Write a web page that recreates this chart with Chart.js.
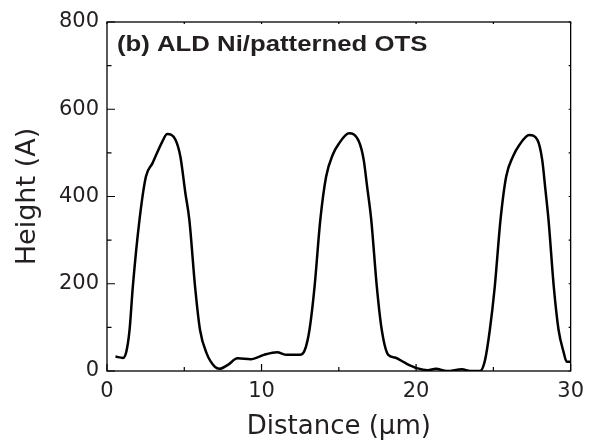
<!DOCTYPE html>
<html>
<head>
<meta charset="utf-8">
<script src="https://cdn.jsdelivr.net/npm/chart.js@4/dist/chart.umd.min.js"></script>
<style>
  html, body { margin: 0; padding: 0; background: #fff; }
  #wrap { width: 592px; height: 441px; position: relative; }
</style>
</head>
<body>
<div id="wrap"><canvas id="chart" width="592" height="441"></canvas></div>
<script>
const panelLabel = "(b) ALD Ni/patterned OTS";
const xTitle = "Distance (\u03bcm)";
const yTitle = "Height (A)";

// profile (um, angstrom)
const distance = [
  0.55, 1.04, 1.25, 1.46, 1.67, 2.1, 2.52, 2.94, 3.58, 3.9, 4.43, 4.75, 5.07, 5.33,
  5.7, 6.02, 6.44, 6.97, 7.29, 7.82, 8.45, 9.3, 10.15, 11.0, 11.63, 12.48, 12.8,
  13.1, 13.43, 13.8, 14.18, 14.6, 15.02, 15.66, 16.3, 16.61, 16.83, 17.1, 17.46,
  17.78, 18.2, 18.63, 19.26, 20.1, 20.75, 21.28, 22.0, 22.97, 23.5, 24.14, 24.46,
  24.77, 25.09, 25.46, 25.83, 26.26, 26.68, 27.32, 27.85, 28.16, 28.37, 28.57,
  28.91, 29.22, 29.54, 29.75, 29.99
];
const height = [
  33, 30, 44, 94, 193, 346, 446, 476, 526, 543, 530, 491, 408, 346,
  193, 94, 41, 10, 5, 14, 29, 27, 37, 43, 37, 37, 48,
  94, 193, 346, 446, 495, 522, 545, 526, 484, 423, 346, 193,
  94, 37, 31, 19, 6, 2, 5, 0, 4, 0, 0, 25,
  94, 193, 346, 446, 491, 518, 541, 530, 484, 415, 346,
  193, 94, 44, 21, 21
];

const xMajor = [0, 10, 20, 30];
const xMinor = [5, 15, 25];
const yMajor = [0, 200, 400, 600, 800];
const yMinor = [100, 300, 500, 700];

const textColor = "#231f20";
const sans = "'DejaVu Sans', sans-serif";

const frame = {
  id: "frame",
  afterDatasetsDraw(chart) {
    const { ctx, chartArea: a, scales } = chart;
    ctx.save();
    ctx.strokeStyle = "#000";
    ctx.lineWidth = 1.3;
    ctx.strokeRect(a.left, a.top, a.right - a.left, a.bottom - a.top);
    ctx.lineWidth = 1.2;
    ctx.beginPath();
    for (const v of xMajor.concat(xMinor)) {
      const px = scales.x.getPixelForValue(v);
      const len = xMajor.includes(v) ? 7 : 4;
      ctx.moveTo(px, a.bottom);
      ctx.lineTo(px, a.bottom - len);
      ctx.moveTo(px, a.top);
      ctx.lineTo(px, a.top + 2);
    }
    for (const v of yMajor.concat(yMinor)) {
      const py = scales.y.getPixelForValue(v);
      const len = yMajor.includes(v) ? 8 : 4.5;
      ctx.moveTo(a.left, py);
      ctx.lineTo(a.left + len, py);
      ctx.moveTo(a.right, py);
      ctx.lineTo(a.right - 2, py);
    }
    ctx.stroke();
    // panel label, the original type is a little wide
    ctx.fillStyle = textColor;
    ctx.font = "bold 22px 'Liberation Sans', Arial, sans-serif";
    ctx.textBaseline = "alphabetic";
    ctx.translate(a.left + 10, a.top + 28.5);
    ctx.scale(1.17, 1);
    ctx.fillText(panelLabel, 0, 0);
    ctx.restore();
  },
};

new Chart(document.getElementById("chart"), {
  type: "line",
  data: {
    datasets: [{
      data: distance.map((x, i) => ({ x, y: height[i] })),
      borderColor: "#000",
      borderWidth: 2.5,
      pointRadius: 0,
      cubicInterpolationMode: "monotone",
      fill: false,
    }],
  },
  options: {
    responsive: false,
    animation: false,
    layout: { padding: { top: 22, right: 13, left: 0, bottom: 0 } },
    plugins: { legend: { display: false }, tooltip: { enabled: false } },
    scales: {
      x: {
        type: "linear",
        min: 0,
        max: 30,
        afterFit(scale) { scale.height = 70; },
        afterBuildTicks(scale) { scale.ticks = xMajor.map((value) => ({ value })); },
        grid: { display: false, drawTicks: false },
        border: { display: false },
        ticks: {
          color: textColor,
          font: { family: sans, size: 21 },
          padding: 8,
          maxRotation: 0,
        },
        title: {
          display: true,
          text: xTitle,
          color: textColor,
          font: { family: sans, size: 26, lineHeight: 1 },
          padding: { top: 0, bottom: 1 },
        },
      },
      y: {
        min: 0,
        max: 800,
        afterFit(scale) { scale.width = 107; },
        afterBuildTicks(scale) { scale.ticks = yMajor.map((value) => ({ value })); },
        grid: { display: false, drawTicks: false },
        border: { display: false },
        ticks: {
          color: textColor,
          font: { family: sans, size: 21 },
          padding: 8,
        },
        title: {
          display: true,
          text: yTitle,
          color: textColor,
          font: { family: sans, size: 27, lineHeight: 1 },
          padding: { top: 14, bottom: 0 },
        },
      },
    },
  },
  plugins: [frame],
});
</script>
</body>
</html>
